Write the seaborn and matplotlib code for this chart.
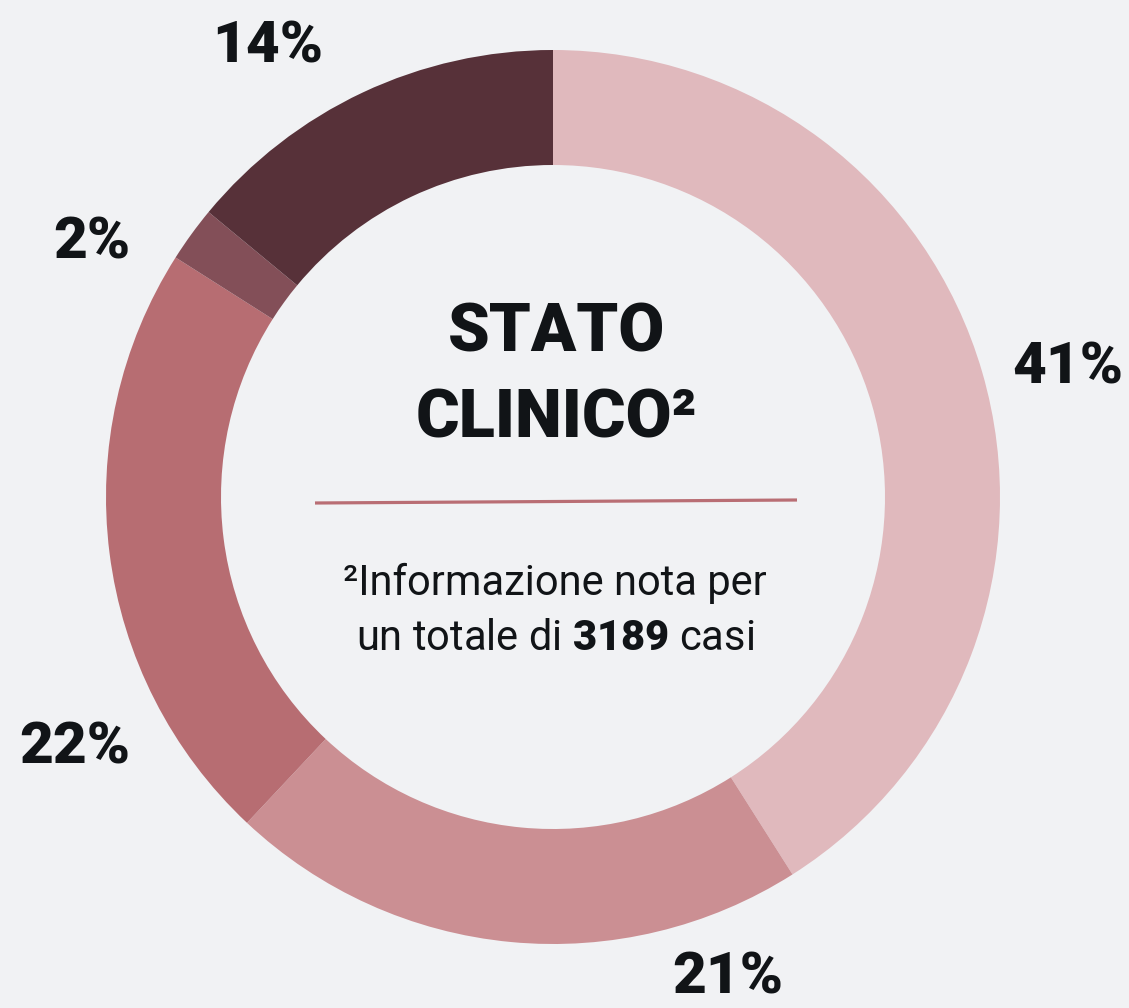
import matplotlib.pyplot as plt
import seaborn as sns

# stato clinico, share of cases (%), clockwise from the top
labels = ['41%', '21%', '22%', '2%', '14%']
shares = [41, 21, 22, 2, 14]
slice_colors = ['#E0B9BD', '#CB8F93', '#B76D72', '#834F58', '#573139']
# where each percentage label sits (pixels, origin bottom left)
label_pos = [(1068, 640), (728, 30), (75, 260), (92, 765), (268, 961)]
totale = 3189

bg = '#F1F2F4'
ink = '#111417'

sns.set_theme(style='white', rc={'figure.facecolor': bg, 'axes.facecolor': bg})
plt.rcParams['font.family'] = ['Roboto', 'DejaVu Sans']
plt.rcParams['mathtext.fontset'] = 'custom'
plt.rcParams['mathtext.rm'] = 'Roboto'
plt.rcParams['mathtext.bf'] = 'Roboto:black'

fig = plt.figure(figsize=(11.29, 10.08), dpi=100)
ax = fig.add_axes([0, 0, 1, 1])

pal = sns.color_palette(slice_colors)
ax.pie(shares, colors=pal, startangle=90, counterclock=False,
       center=(553, 511), radius=447, frame=True,
       wedgeprops=dict(width=447 - 332, linewidth=0))
ax.set_xlim(0, 1129)
ax.set_ylim(0, 1008)
ax.set_aspect('equal')
ax.axis('off')

for lab, (x, y) in zip(labels, label_pos):
    ax.text(x, y, lab, ha='center', va='center', fontsize=42,
            fontweight='black', color=ink)

ax.text(556, 675, 'STATO', ha='center', va='center', fontsize=48,
        fontweight='black', color=ink)
ax.text(556, 588, 'CLINICO²', ha='center', va='center', fontsize=48,
        fontweight='black', color=ink)
ax.plot([315, 797], [505, 508], color='#B96E74', lw=2.3,
        solid_capstyle='butt')
ax.text(555, 425, '²Informazione nota per', ha='center', va='center',
        fontsize=30, color=ink)
ax.text(555, 370, r'un totale di $\mathbf{%d}$ casi' % totale,
        ha='center', va='center', fontsize=30, color=ink)

fig.savefig('out.png', dpi=100, facecolor=bg)
